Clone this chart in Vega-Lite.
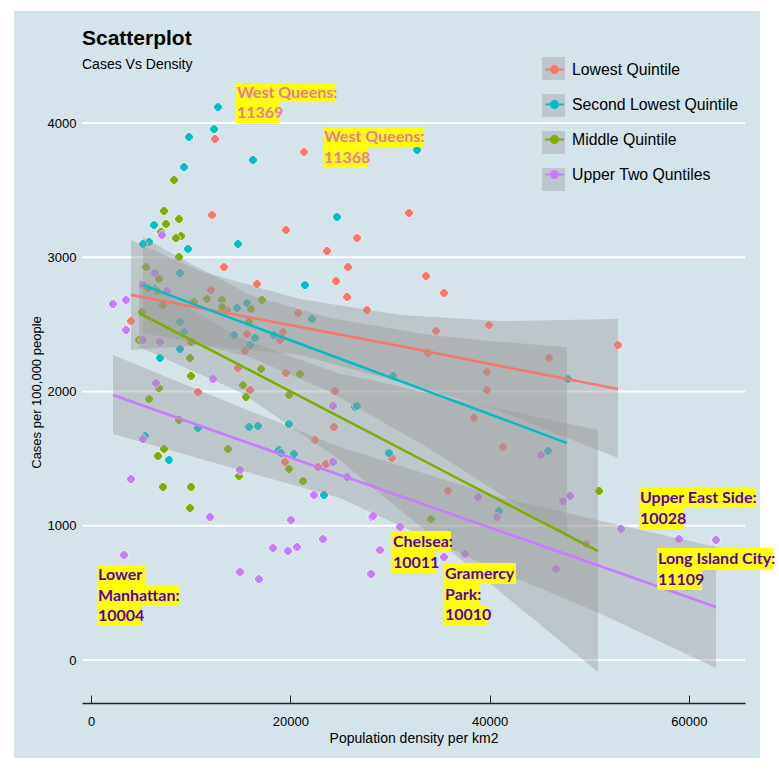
{"$schema":"https://vega.github.io/schema/vega-lite/v6.json","width":663,"height":628,"autosize":"none","padding":{"left":82,"top":75,"right":34,"bottom":68},"background":"white",
"title":{"text":"Scatterplot","subtitle":"Cases Vs Density","anchor":"start","frame":"group","font":"Liberation Sans","fontSize":21,"fontWeight":"bold","color":"black","subtitleFont":"Liberation Sans","subtitleFontSize":14,"subtitleColor":"black","subtitlePadding":9,"offset":-61},
"config":{"view":{"stroke":null},"font":"Liberation Sans"},
"datasets":{
"panel":[{"x":-7727,"x2":67134,"y":-730,"y2":4834}],
"grid":[{"y":0},{"y":1000},{"y":2000},{"y":3000},{"y":4000}],
"points":[
{"q":"Lowest Quintile","x":12443,"y":3881},{"q":"Lowest Quintile","x":21375,"y":3784},{"q":"Lowest Quintile","x":12142,"y":3315},{"q":"Lowest Quintile","x":19568,"y":3203},{"q":"Lowest Quintile","x":23683,"y":3047},{"q":"Lowest Quintile","x":13347,"y":2927},{"q":"Lowest Quintile","x":16658,"y":2801},{"q":"Lowest Quintile","x":24586,"y":2823},{"q":"Lowest Quintile","x":12042,"y":2756},{"q":"Lowest Quintile","x":20772,"y":2585},{"q":"Lowest Quintile","x":4014,"y":2525},{"q":"Lowest Quintile","x":13648,"y":2607},{"q":"Lowest Quintile","x":31911,"y":3330},{"q":"Lowest Quintile","x":26693,"y":3144},{"q":"Lowest Quintile","x":25790,"y":2927},{"q":"Lowest Quintile","x":33617,"y":2860},{"q":"Lowest Quintile","x":35424,"y":2734},{"q":"Lowest Quintile","x":25690,"y":2704},{"q":"Lowest Quintile","x":27697,"y":2607},{"q":"Lowest Quintile","x":39939,"y":2495},{"q":"Lowest Quintile","x":34621,"y":2451},{"q":"Lowest Quintile","x":45960,"y":2250},{"q":"Lowest Quintile","x":33818,"y":2287},{"q":"Lowest Quintile","x":39739,"y":2145},{"q":"Lowest Quintile","x":39739,"y":2011},{"q":"Lowest Quintile","x":24485,"y":2004},{"q":"Lowest Quintile","x":38434,"y":1803},{"q":"Lowest Quintile","x":41344,"y":1587},{"q":"Lowest Quintile","x":24385,"y":1736},{"q":"Lowest Quintile","x":30205,"y":1505},{"q":"Lowest Quintile","x":15655,"y":2428},{"q":"Lowest Quintile","x":19267,"y":2443},{"q":"Lowest Quintile","x":18966,"y":2384},{"q":"Lowest Quintile","x":15454,"y":2302},{"q":"Lowest Quintile","x":14751,"y":2175},{"q":"Lowest Quintile","x":19568,"y":2138},{"q":"Lowest Quintile","x":10737,"y":1996},{"q":"Lowest Quintile","x":15956,"y":2011},{"q":"Lowest Quintile","x":22478,"y":1639},{"q":"Lowest Quintile","x":19468,"y":1475},{"q":"Lowest Quintile","x":22779,"y":1438},{"q":"Lowest Quintile","x":23582,"y":1460},{"q":"Lowest Quintile","x":35825,"y":1259},{"q":"Lowest Quintile","x":52884,"y":2346},
{"q":"Second Lowest Quintile","x":12744,"y":4119},{"q":"Second Lowest Quintile","x":12343,"y":3955},{"q":"Second Lowest Quintile","x":9834,"y":3896},{"q":"Second Lowest Quintile","x":9333,"y":3672},{"q":"Second Lowest Quintile","x":16257,"y":3725},{"q":"Second Lowest Quintile","x":6322,"y":3240},{"q":"Second Lowest Quintile","x":5820,"y":3114},{"q":"Second Lowest Quintile","x":5218,"y":3099},{"q":"Second Lowest Quintile","x":9734,"y":3062},{"q":"Second Lowest Quintile","x":14751,"y":3099},{"q":"Second Lowest Quintile","x":21475,"y":2793},{"q":"Second Lowest Quintile","x":24686,"y":3300},{"q":"Second Lowest Quintile","x":32714,"y":3799},{"q":"Second Lowest Quintile","x":8931,"y":2883},{"q":"Second Lowest Quintile","x":15655,"y":2659},{"q":"Second Lowest Quintile","x":14651,"y":2622},{"q":"Second Lowest Quintile","x":22177,"y":2540},{"q":"Second Lowest Quintile","x":8931,"y":2518},{"q":"Second Lowest Quintile","x":6422,"y":2764},{"q":"Second Lowest Quintile","x":9333,"y":2443},{"q":"Second Lowest Quintile","x":14350,"y":2421},{"q":"Second Lowest Quintile","x":16457,"y":2399},{"q":"Second Lowest Quintile","x":15956,"y":2346},{"q":"Second Lowest Quintile","x":18364,"y":2421},{"q":"Second Lowest Quintile","x":8931,"y":2317},{"q":"Second Lowest Quintile","x":6924,"y":2250},{"q":"Second Lowest Quintile","x":19869,"y":1758},{"q":"Second Lowest Quintile","x":15855,"y":1736},{"q":"Second Lowest Quintile","x":16758,"y":1743},{"q":"Second Lowest Quintile","x":10737,"y":1728},{"q":"Second Lowest Quintile","x":5419,"y":1669},{"q":"Second Lowest Quintile","x":18866,"y":1564},{"q":"Second Lowest Quintile","x":19067,"y":1542},{"q":"Second Lowest Quintile","x":20371,"y":1535},{"q":"Second Lowest Quintile","x":7827,"y":1490},{"q":"Second Lowest Quintile","x":23382,"y":1229},{"q":"Second Lowest Quintile","x":30306,"y":2116},{"q":"Second Lowest Quintile","x":47867,"y":2093},{"q":"Second Lowest Quintile","x":26492,"y":1885},{"q":"Second Lowest Quintile","x":26693,"y":1892},{"q":"Second Lowest Quintile","x":29904,"y":1542},{"q":"Second Lowest Quintile","x":45860,"y":1557},{"q":"Second Lowest Quintile","x":40943,"y":1110},
{"q":"Middle Quintile","x":8329,"y":3576},{"q":"Middle Quintile","x":7326,"y":3345},{"q":"Middle Quintile","x":8831,"y":3285},{"q":"Middle Quintile","x":7526,"y":3248},{"q":"Middle Quintile","x":7025,"y":3188},{"q":"Middle Quintile","x":9032,"y":3158},{"q":"Middle Quintile","x":8530,"y":3143},{"q":"Middle Quintile","x":8831,"y":3002},{"q":"Middle Quintile","x":5519,"y":2927},{"q":"Middle Quintile","x":6824,"y":2838},{"q":"Middle Quintile","x":5720,"y":2771},{"q":"Middle Quintile","x":6623,"y":2749},{"q":"Middle Quintile","x":10336,"y":2667},{"q":"Middle Quintile","x":11641,"y":2689},{"q":"Middle Quintile","x":13146,"y":2682},{"q":"Middle Quintile","x":13146,"y":2630},{"q":"Middle Quintile","x":16056,"y":2615},{"q":"Middle Quintile","x":17160,"y":2682},{"q":"Middle Quintile","x":7225,"y":2644},{"q":"Middle Quintile","x":5118,"y":2592},{"q":"Middle Quintile","x":15855,"y":2518},{"q":"Middle Quintile","x":4817,"y":2384},{"q":"Middle Quintile","x":10035,"y":2369},{"q":"Middle Quintile","x":9935,"y":2250},{"q":"Middle Quintile","x":10035,"y":2116},{"q":"Middle Quintile","x":17060,"y":2168},{"q":"Middle Quintile","x":20973,"y":2130},{"q":"Middle Quintile","x":6824,"y":2026},{"q":"Middle Quintile","x":5820,"y":1944},{"q":"Middle Quintile","x":15253,"y":2048},{"q":"Middle Quintile","x":15554,"y":1959},{"q":"Middle Quintile","x":19869,"y":1974},{"q":"Middle Quintile","x":8831,"y":1788},{"q":"Middle Quintile","x":13748,"y":1572},{"q":"Middle Quintile","x":7326,"y":1572},{"q":"Middle Quintile","x":6723,"y":1520},{"q":"Middle Quintile","x":19869,"y":1423},{"q":"Middle Quintile","x":14852,"y":1371},{"q":"Middle Quintile","x":21274,"y":1333},{"q":"Middle Quintile","x":7225,"y":1289},{"q":"Middle Quintile","x":10035,"y":1289},{"q":"Middle Quintile","x":9935,"y":1132},{"q":"Middle Quintile","x":50978,"y":1259},{"q":"Middle Quintile","x":34119,"y":1050},
{"q":"Upper Two Quntiles","x":2208,"y":2652},{"q":"Upper Two Quntiles","x":3512,"y":2682},{"q":"Upper Two Quntiles","x":3512,"y":2458},{"q":"Upper Two Quntiles","x":5218,"y":2793},{"q":"Upper Two Quntiles","x":6422,"y":2883},{"q":"Upper Two Quntiles","x":7627,"y":2749},{"q":"Upper Two Quntiles","x":7125,"y":3166},{"q":"Upper Two Quntiles","x":5218,"y":2384},{"q":"Upper Two Quntiles","x":6924,"y":2369},{"q":"Upper Two Quntiles","x":6523,"y":2063},{"q":"Upper Two Quntiles","x":12243,"y":2093},{"q":"Upper Two Quntiles","x":5218,"y":1646},{"q":"Upper Two Quntiles","x":4014,"y":1348},{"q":"Upper Two Quntiles","x":14952,"y":1415},{"q":"Upper Two Quntiles","x":11942,"y":1065},{"q":"Upper Two Quntiles","x":20070,"y":1043},{"q":"Upper Two Quntiles","x":22378,"y":1229},{"q":"Upper Two Quntiles","x":23281,"y":901},{"q":"Upper Two Quntiles","x":18264,"y":834},{"q":"Upper Two Quntiles","x":19769,"y":812},{"q":"Upper Two Quntiles","x":20672,"y":842},{"q":"Upper Two Quntiles","x":3312,"y":782},{"q":"Upper Two Quntiles","x":14952,"y":656},{"q":"Upper Two Quntiles","x":16859,"y":603},{"q":"Upper Two Quntiles","x":24285,"y":1892},{"q":"Upper Two Quntiles","x":24285,"y":1475},{"q":"Upper Two Quntiles","x":25690,"y":1363},{"q":"Upper Two Quntiles","x":28198,"y":1065},{"q":"Upper Two Quntiles","x":28299,"y":1073},{"q":"Upper Two Quntiles","x":31008,"y":991},{"q":"Upper Two Quntiles","x":29001,"y":819},{"q":"Upper Two Quntiles","x":28098,"y":641},{"q":"Upper Two Quntiles","x":35424,"y":767},{"q":"Upper Two Quntiles","x":37531,"y":790},{"q":"Upper Two Quntiles","x":38835,"y":1214},{"q":"Upper Two Quntiles","x":40742,"y":1065},{"q":"Upper Two Quntiles","x":45158,"y":1527},{"q":"Upper Two Quntiles","x":47365,"y":1184},{"q":"Upper Two Quntiles","x":48068,"y":1222},{"q":"Upper Two Quntiles","x":46663,"y":678},{"q":"Upper Two Quntiles","x":49673,"y":864},{"q":"Upper Two Quntiles","x":53186,"y":976},{"q":"Upper Two Quntiles","x":59006,"y":901},{"q":"Upper Two Quntiles","x":62719,"y":894}
],
"fits":[
{"q":"Lowest Quintile","x":4014,"c":2719,"hi":3129,"lo":2309},{"q":"Lowest Quintile","x":10938,"c":2622,"hi":2898,"lo":2346},{"q":"Lowest Quintile","x":20973,"c":2481,"hi":2689,"lo":2272},{"q":"Lowest Quintile","x":31008,"c":2339,"hi":2570,"lo":2071},{"q":"Lowest Quintile","x":41043,"c":2190,"hi":2525,"lo":1855},{"q":"Lowest Quintile","x":52884,"c":2019,"hi":2540,"lo":1505},
{"q":"Second Lowest Quintile","x":5218,"c":2793,"hi":3151,"lo":2436},{"q":"Second Lowest Quintile","x":8931,"c":2689,"hi":2995,"lo":2384},{"q":"Second Lowest Quintile","x":15956,"c":2495,"hi":2719,"lo":2257},{"q":"Second Lowest Quintile","x":23984,"c":2272,"hi":2548,"lo":1996},{"q":"Second Lowest Quintile","x":34019,"c":1996,"hi":2421,"lo":1572},{"q":"Second Lowest Quintile","x":41043,"c":1803,"hi":2369,"lo":1237},{"q":"Second Lowest Quintile","x":47767,"c":1616,"hi":2332,"lo":916},
{"q":"Middle Quintile","x":4817,"c":2585,"hi":2838,"lo":2332},{"q":"Middle Quintile","x":14952,"c":2197,"hi":2399,"lo":1996},{"q":"Middle Quintile","x":24987,"c":1810,"hi":2130,"lo":1490},{"q":"Middle Quintile","x":27697,"c":1706,"hi":2093,"lo":1318},{"q":"Middle Quintile","x":36327,"c":1371,"hi":1944,"lo":797},{"q":"Middle Quintile","x":50877,"c":812,"hi":1713,"lo":-89},
{"q":"Upper Two Quntiles","x":2208,"c":1974,"hi":2272,"lo":1683},{"q":"Upper Two Quntiles","x":14952,"c":1639,"hi":1885,"lo":1415},{"q":"Upper Two Quntiles","x":24987,"c":1378,"hi":1587,"lo":1207},{"q":"Upper Two Quntiles","x":41344,"c":953,"hi":1207,"lo":648},{"q":"Upper Two Quntiles","x":50777,"c":708,"hi":1043,"lo":358},{"q":"Upper Two Quntiles","x":62719,"c":395,"hi":842,"lo":-60}
],
"notes":[
{"kind":"Low","line":"West Queens:","x":14551,"x2":24586,"y":4291,"y2":4157,"ym":4224},
{"kind":"Low","line":"11369","x":14551,"x2":18966,"y":4157,"y2":4000,"ym":4078},
{"kind":"Low","line":"West Queens:","x":23281,"x2":33417,"y":3970,"y2":3821,"ym":3895},
{"kind":"Low","line":"11368","x":23281,"x2":27697,"y":3821,"y2":3665,"ym":3743},
{"kind":"High","line":"Lower","x":602,"x2":5419,"y":708,"y2":559,"ym":633},
{"kind":"High","line":"Manhattan:","x":602,"x2":8931,"y":559,"y2":402,"ym":480},
{"kind":"High","line":"10004","x":602,"x2":5118,"y":402,"y2":253,"ym":328},
{"kind":"High","line":"Chelsea:","x":30205,"x2":36126,"y":961,"y2":804,"ym":882},
{"kind":"High","line":"10011","x":30205,"x2":34621,"y":804,"y2":648,"ym":726},
{"kind":"High","line":"Gramercy","x":35424,"x2":42649,"y":723,"y2":566,"ym":644},
{"kind":"High","line":"Park:","x":35424,"x2":39036,"y":566,"y2":410,"ym":488},
{"kind":"High","line":"10010","x":35424,"x2":39839,"y":410,"y2":261,"ym":335},
{"kind":"High","line":"Upper East Side:","x":54992,"x2":66733,"y":1289,"y2":1132,"ym":1210},
{"kind":"High","line":"10028","x":54992,"x2":59508,"y":1132,"y2":976,"ym":1054},
{"kind":"High","line":"Long Island City:","x":56798,"x2":68439,"y":834,"y2":670,"ym":752},
{"kind":"High","line":"11109","x":56798,"x2":61314,"y":670,"y2":521,"ym":596}
]},
"layer":[
{"data":{"name":"panel"},"mark":{"type":"rect","fill":"#d5e4eb"},"encoding":{"x":{"field":"x","type":"quantitative","scale":{"domain":[-903,65629],"nice":false,"zero":false},"axis":{"values":[0,20000,40000,60000],"format":"d","title":"Population density per km2","titleFontSize":14,"titleFontWeight":"normal","titleColor":"black","titlePadding":3,"labelFontSize":13,"labelColor":"black","domain":true,"domainColor":"#222222","domainWidth":1.5,"ticks":true,"tickColor":"#222222","tickWidth":1,"tickSize":-8,"grid":false,"labelPadding":20,"zindex":1}},"x2":{"field":"x2"},"y":{"field":"y","type":"quantitative","scale":{"domain":[-320,4358],"nice":false,"zero":false},"axis":{"values":[0,1000,2000,3000,4000],"format":"d","title":"Cases per 100,000 people","titleFontSize":13,"titleFontWeight":"normal","titleColor":"black","titleY":317,"labelFontSize":13,"labelColor":"black","domain":false,"ticks":false,"grid":false,"labelPadding":6,"zindex":1}},"y2":{"field":"y2"}}},
{"data":{"name":"grid"},"mark":{"type":"rule","stroke":"white","strokeWidth":2},"encoding":{"y":{"field":"y","type":"quantitative","scale":{"domain":[-320,4358],"nice":false,"zero":false}}}},
{"data":{"name":"points"},"mark":{"type":"point","shape":"M-0.2,-0.85L0.2,-0.85L0.85,-0.2L0.85,0.2L0.2,0.85L-0.2,0.85L-0.85,0.2L-0.85,-0.2Z","filled":true,"size":110,"opacity":1,"stroke":"white","strokeWidth":0.7},"encoding":{"x":{"field":"x","type":"quantitative","scale":{"domain":[-903,65629],"nice":false,"zero":false}},"y":{"field":"y","type":"quantitative","scale":{"domain":[-320,4358],"nice":false,"zero":false}},
"color":{"field":"q","type":"nominal","scale":{"domain":["Lowest Quintile","Second Lowest Quintile","Middle Quintile","Upper Two Quntiles"],"range":["#F8766D","#00BFC4","#7CAE00","#C77CFF"]},"legend":{"orient":"none","legendX":460,"legendY":-18,"title":null,"symbolType":"M-0.8,0H0.8M0.3,0A0.3,0.3 0 1 1 -0.3,0A0.3,0.3 0 1 1 0.3,0","symbolSize":529,"symbolStrokeWidth":2,"rowPadding":14,"labelFontSize":15.8,"labelLimit":300,"labelColor":"black","labelOffset":5,"labelFont":"Liberation Sans","zindex":2,"encode":{"symbols":{"update":{"opacity":{"value":1},"strokeWidth":{"value":2},"fill":{"scale":"color","field":"value"},"stroke":{"scale":"color","field":"value"}}}}}}}},
{"data":{"name":"fits"},"mark":{"type":"area","opacity":0.4},"encoding":{"x":{"field":"x","type":"quantitative","scale":{"domain":[-903,65629],"nice":false,"zero":false}},"y":{"field":"hi","type":"quantitative","scale":{"domain":[-320,4358],"nice":false,"zero":false}},"y2":{"field":"lo"},
"fill":{"field":"q","type":"nominal","scale":{"domain":["Upper Two Quntiles","Middle Quintile","Second Lowest Quintile","Lowest Quintile"],"range":["#999999","#999999","#999999","#999999"]},"legend":{"orient":"none","legendX":460,"legendY":-18,"title":null,"symbolType":"square","symbolSize":529,"symbolOpacity":0.4,"symbolStrokeWidth":0,"rowPadding":14,"labelFontSize":15.8,"labelExpr":"''","labelOffset":5,"zindex":1}}}},
{"data":{"name":"fits"},"mark":{"type":"line","strokeWidth":2.5},"encoding":{"x":{"field":"x","type":"quantitative","scale":{"domain":[-903,65629],"nice":false,"zero":false}},"y":{"field":"c","type":"quantitative","scale":{"domain":[-320,4358],"nice":false,"zero":false}},"color":{"field":"q","type":"nominal","scale":{"domain":["Lowest Quintile","Second Lowest Quintile","Middle Quintile","Upper Two Quntiles"],"range":["#F8766D","#00BFC4","#7CAE00","#C77CFF"]}}}},
{"data":{"name":"notes"},"mark":{"type":"rect","fill":"#ffff00"},"encoding":{"x":{"field":"x","type":"quantitative","scale":{"domain":[-903,65629],"nice":false,"zero":false}},"x2":{"field":"x2"},"y":{"field":"y","type":"quantitative","scale":{"domain":[-320,4358],"nice":false,"zero":false}},"y2":{"field":"y2"}}},
{"data":{"name":"notes"},"mark":{"type":"text","align":"left","baseline":"middle","dx":1,"font":"Lato","fontWeight":"bold","fontSize":16},"encoding":{"x":{"field":"x","type":"quantitative","scale":{"domain":[-903,65629],"nice":false,"zero":false}},"y":{"field":"ym","type":"quantitative","scale":{"domain":[-320,4358],"nice":false,"zero":false}},"text":{"field":"line"},
"fill":{"condition":{"test":"datum.kind==='Low'","value":"#e879a8"},"value":"#5a00b4"}}}
]}
